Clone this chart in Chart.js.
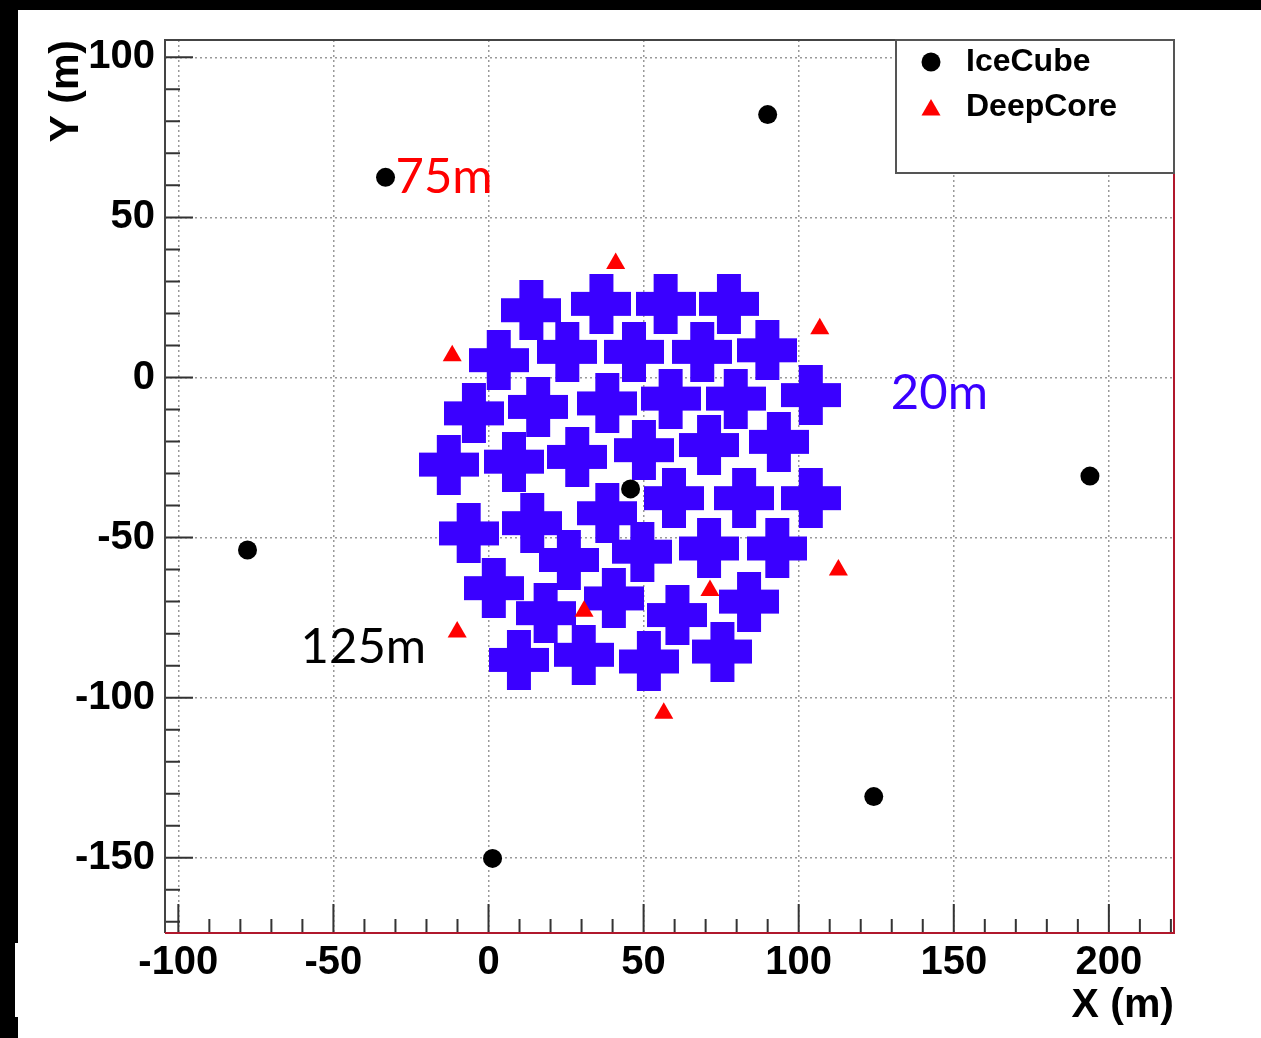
<!DOCTYPE html>
<html>
<head>
<meta charset="utf-8">
<script src="https://cdn.jsdelivr.net/npm/chart.js@4.4.0/dist/chart.umd.min.js"></script>
<style>
  html, body { margin: 0; padding: 0; background: #000; overflow: hidden; }
  #wrap { width: 1261px; height: 1038px; position: relative; }
</style>
</head>
<body>
<div id="wrap"><canvas id="strings" width="1261" height="1038"></canvas></div>
<script>
// IceCube strings
const iceCubeX = [-33.2, 90.0, 193.9, -77.7, 45.8, 124.2, 1.3];
const iceCubeY = [62.5, 82.1, -30.8, -53.9, -34.8, -130.9, -150.2];

// DeepCore strings
const deepCoreX = [41.0, 106.8, -11.7, 112.8, 71.4, 30.8, -10.1, 56.5];
const deepCoreY = [35.6, 15.2, 6.8, -60.1, -66.5, -73.0, -79.5, -104.9];

// 20m infill strings
const infillX = [13.8, 36.4, 57.1, 77.5, 3.3, 25.4, 46.9, 68.9, 89.9, -4.7,
                 16.0, 38.3, 58.7, 79.7, 103.9, -12.8, 8.2, 28.6, 50.1, 71.1,
                 93.6, 38.3, 59.8, 82.4, 103.9, -6.4, 14.1, 49.6, 71.1, 93.1,
                 25.9, 1.7, 40.4, 84.0, 18.4, 60.9, 9.8, 30.7, 51.7, 75.4];
const infillY = [21.0, 23.0, 23.0, 23.0, 5.4, 8.0, 8.0, 8.0, 8.5, -11.2,
                 -9.2, -8.1, -6.6, -6.6, -5.5, -27.2, -26.3, -24.8, -22.7, -21.1,
                 -20.1, -42.4, -37.7, -37.7, -37.7, -48.7, -45.5, -54.4, -53.4, -53.4,
                 -57.0, -65.8, -69.0, -70.0, -73.6, -74.2, -88.2, -86.6, -88.7, -85.6];

const xTicks = [-100, -50, 0, 50, 100, 150, 200];
const yTicks = [-150, -100, -50, 0, 50, 100];

const notes = [
  { text: '75m', x: -30, y: 62.4, color: '#ff0000' },
  { text: '20m', x: 129.7, y: -4.9, color: '#3a00ff' },
  { text: '125m', x: -60.6, y: -84.2, color: '#000000' }
];

const toPoints = (xs, ys) => xs.map((x, i) => ({ x: x, y: ys[i] }));

function plusImage(size, arm, color) {
  const c = document.createElement('canvas');
  c.width = size; c.height = size;
  const g = c.getContext('2d');
  g.fillStyle = color;
  const o = (size - arm) / 2;
  g.fillRect(o, 0, arm, size);
  g.fillRect(0, o, size, arm);
  return c;
}

const tickFont = { family: 'Liberation Sans', size: 40, weight: 'bold' };

// black frame round the white sheet
const background = {
  id: 'background',
  beforeDraw(chart) {
    const ctx = chart.ctx;
    ctx.save();
    ctx.fillStyle = '#000';
    ctx.fillRect(0, 0, chart.width, chart.height);
    ctx.fillStyle = '#fff';
    ctx.fillRect(18, 10, chart.width - 18, chart.height - 10);
    ctx.fillRect(15, 943, 4, 74);
    ctx.restore();
  }
};

// ROOT style frame with inward ticks
const frame = {
  id: 'frame',
  beforeDatasetsDraw(chart) {
    const ctx = chart.ctx;
    const a = chart.chartArea;
    const xs = chart.scales.x, ys = chart.scales.y;
    ctx.save();
    ctx.strokeStyle = '#333';
    ctx.lineWidth = 2;
    ctx.beginPath();
    for (let v = -100; v <= 220; v += 10) {
      const px = xs.getPixelForValue(v);
      const len = v % 50 === 0 ? 29 : 14;
      ctx.moveTo(px, a.bottom);
      ctx.lineTo(px, a.bottom - len);
    }
    for (let v = -170; v <= 100; v += 10) {
      const py = ys.getPixelForValue(v);
      const len = v % 50 === 0 ? 28 : 15;
      ctx.moveTo(a.left, py);
      ctx.lineTo(a.left + len, py);
    }
    ctx.stroke();

    ctx.strokeStyle = '#444';
    ctx.beginPath();
    ctx.moveTo(a.left, a.bottom);
    ctx.lineTo(a.left, a.top);
    ctx.lineTo(a.right, a.top);
    ctx.stroke();

    ctx.strokeStyle = '#b0182c';
    ctx.beginPath();
    ctx.moveTo(a.left, a.bottom);
    ctx.lineTo(a.right, a.bottom);
    ctx.lineTo(a.right, a.top);
    ctx.stroke();
    ctx.restore();
  }
};

// legend box and text notes
const extras = {
  id: 'extras',
  afterDraw(chart) {
    const ctx = chart.ctx;
    const a = chart.chartArea;
    const xs = chart.scales.x, ys = chart.scales.y;
    ctx.save();

    notes.forEach(n => {
      ctx.font = '49px Lato';
      ctx.fillStyle = n.color;
      ctx.textAlign = 'left';
      ctx.textBaseline = 'middle';
      ctx.fillText(n.text, xs.getPixelForValue(n.x), ys.getPixelForValue(n.y));
    });

    const w = 278, h = 133;
    const bx = a.right - w, by = a.top;
    ctx.fillStyle = '#fff';
    ctx.fillRect(bx, by, w, h);
    ctx.strokeStyle = '#555';
    ctx.lineWidth = 2;
    ctx.strokeRect(bx, by, w, h);

    chart.data.datasets.slice(0, 2).forEach((ds, i) => {
      const cy = by + 22 + i * 45;
      ctx.fillStyle = ds.backgroundColor;
      ctx.strokeStyle = ds.backgroundColor;
      Chart.helpers.drawPoint(ctx, { pointStyle: ds.pointStyle, radius: ds.pointRadius, rotation: 0, borderWidth: 0 }, bx + 35, cy + (i ? 3 : 0));
      ctx.fillStyle = '#000';
      ctx.font = 'bold 32px Liberation Sans';
      ctx.textAlign = 'left';
      ctx.textBaseline = 'middle';
      ctx.fillText(ds.label, bx + 70, cy);
    });
    ctx.restore();
  }
};

new Chart(document.getElementById('strings'), {
  type: 'scatter',
  data: {
    datasets: [
      {
        label: 'IceCube',
        data: toPoints(iceCubeX, iceCubeY),
        pointStyle: 'circle',
        pointRadius: 9.5,
        backgroundColor: '#000000',
        borderWidth: 0
      },
      {
        label: 'DeepCore',
        data: toPoints(deepCoreX, deepCoreY),
        pointStyle: 'triangle',
        pointRadius: 11,
        backgroundColor: '#ff0000',
        borderWidth: 0
      },
      {
        label: '20m',
        data: toPoints(infillX, infillY),
        pointStyle: plusImage(60, 24, '#3a00ff'),
        pointRadius: 30,
        backgroundColor: '#3a00ff',
        borderWidth: 0
      }
    ]
  },
  options: {
    responsive: false,
    animation: false,
    devicePixelRatio: 1,
    layout: { padding: { left: 0, top: 40, right: 87, bottom: 0 } },
    plugins: {
      legend: { display: false },
      tooltip: { enabled: false }
    },
    scales: {
      x: {
        type: 'linear',
        min: -104.3,
        max: 221,
        afterBuildTicks: s => { s.ticks = xTicks.map(v => ({ value: v })); },
        afterFit: s => { s.height = 105; },
        border: { display: false, dash: [2, 3] },
        grid: { color: '#999', lineWidth: 1.5, drawTicks: false },
        ticks: { color: '#000', font: tickFont, padding: 6, maxRotation: 0 },
        title: {
          display: true, text: 'X (m)', align: 'end', color: '#000',
          font: { family: 'Liberation Sans', size: 41, weight: 'bold' },
          padding: { top: 0, bottom: 8 }
        }
      },
      y: {
        type: 'linear',
        min: -173.5,
        max: 105.4,
        afterBuildTicks: s => { s.ticks = yTicks.map(v => ({ value: v })); },
        afterFit: s => { s.width = 165; },
        border: { display: false, dash: [2, 3] },
        grid: { color: '#999', lineWidth: 1.5, drawTicks: false },
        ticks: { color: '#000', font: tickFont, padding: 10 },
        title: {
          display: true, text: 'Y (m)', align: 'end', color: '#000',
          font: { family: 'Liberation Sans', size: 41, weight: 'bold' },
          padding: { top: 42, bottom: 0 }
        }
      }
    }
  },
  plugins: [background, frame, extras]
});
</script>
</body>
</html>
